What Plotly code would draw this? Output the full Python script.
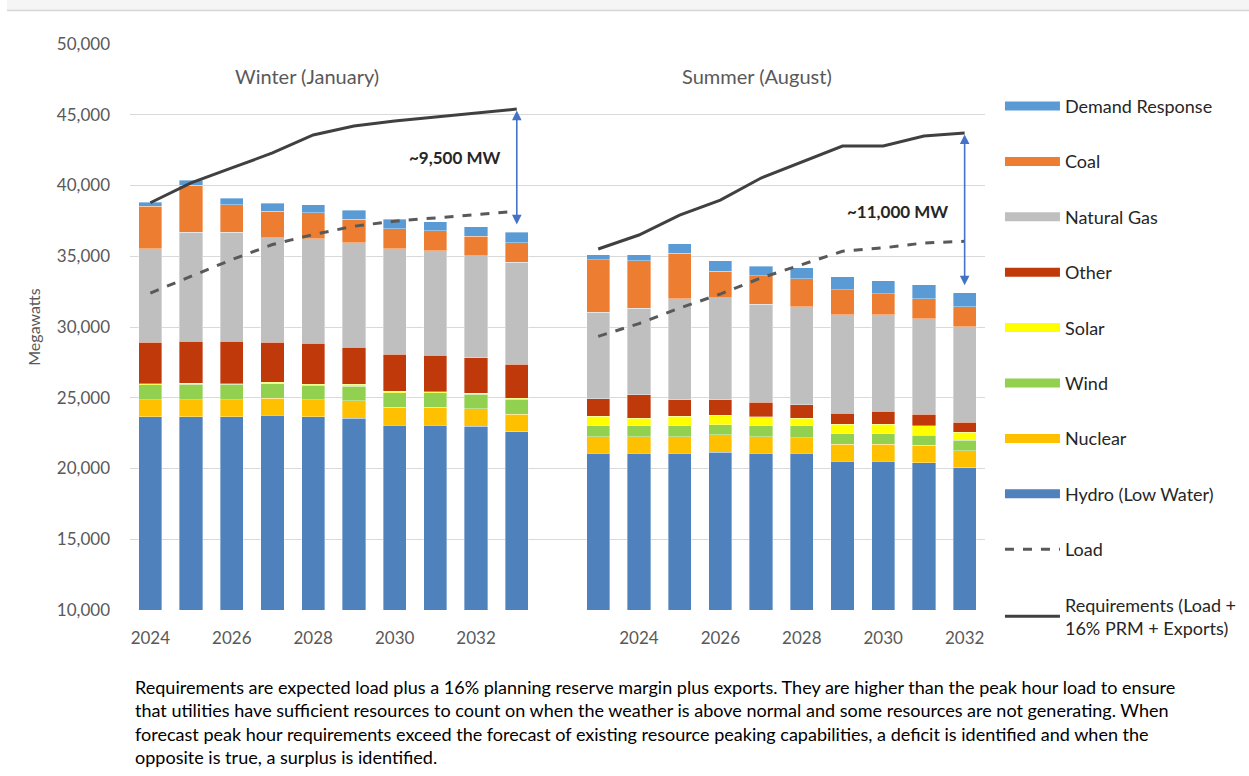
import plotly.graph_objects as go

# ---------------- data ----------------
winter_years = [2024, 2025, 2026, 2027, 2028, 2029, 2030, 2031, 2032, 2033]
summer_years = [2023, 2024, 2025, 2026, 2027, 2028, 2029, 2030, 2031, 2032]

winter_hydro   = [23650, 23650, 23650, 23750, 23650, 23550, 23070, 23070, 23000, 22600]
winter_nuclear = [1200, 1200, 1200, 1200, 1200, 1230, 1250, 1250, 1220, 1250]
winter_wind    = [1070, 1100, 1100, 1050, 1030, 1020, 1030, 1050, 1040, 1060]
winter_solar   = [70, 60, 50, 80, 70, 170, 100, 60, 70, 70]
winter_other   = [2925, 3000, 3010, 2835, 2890, 2590, 2640, 2570, 2480, 2380]
winter_gas     = [6605, 7690, 7690, 7405, 7390, 7380, 7430, 7400, 7210, 7215]
winter_coal    = [3020, 3320, 1930, 1860, 1860, 1680, 1440, 1390, 1395, 1395]
winter_dr      = [280, 360, 470, 570, 540, 635, 640, 640, 665, 730]
winter_load    = [32400, 33580, 34760, 35830, 36530, 37120, 37480, 37710, 37950, 38180]
winter_req     = [38780, 40180, 41240, 42300, 43570, 44200, 44560, 44840, 45120, 45400]

summer_hydro   = [21085, 21085, 21085, 21160, 21085, 21085, 20500, 20500, 20400, 20050]
summer_nuclear = [1175, 1175, 1175, 1220, 1175, 1105, 1220, 1220, 1230, 1200]
summer_wind    = [760, 760, 760, 710, 760, 830, 730, 730, 730, 730]
summer_solar   = [660, 540, 660, 680, 640, 540, 660, 660, 660, 590]
summer_other   = [1250, 1650, 1180, 1090, 1030, 940, 800, 920, 820, 710]
summer_gas     = [6110, 6110, 7120, 7215, 6910, 6915, 6960, 6840, 6750, 6745]
summer_coal    = [3720, 3350, 3230, 1865, 2030, 1985, 1770, 1490, 1390, 1390]
summer_dr      = [360, 450, 690, 730, 660, 800, 900, 920, 1020, 1015]
summer_load    = [29340, 30240, 31340, 32330, 33470, 34410, 35350, 35590, 35940, 36060]
summer_req     = [35510, 36500, 37910, 38970, 40530, 41660, 42790, 42790, 43500, 43710]

tick_years = [2024, 2026, 2028, 2030, 2032]

series = [
    ("Hydro (Low Water)", winter_hydro, summer_hydro, "#4F81BD"),
    ("Nuclear", winter_nuclear, summer_nuclear, "#FFC000"),
    ("Wind", winter_wind, summer_wind, "#92D050"),
    ("Solar", winter_solar, summer_solar, "#FFFF00"),
    ("Other", winter_other, summer_other, "#C0390B"),
    ("Natural Gas", winter_gas, summer_gas, "#BFBFBF"),
    ("Coal", winter_coal, summer_coal, "#ED7D31"),
    ("Demand Response", winter_dr, summer_dr, "#5B9BD5"),
]

# positions: winter group, one empty slot, summer group
winter_x = list(range(len(winter_years)))
summer_x = [len(winter_years) + 1 + i for i in range(len(summer_years))]

FONT = "Lato, 'Open Sans', sans-serif"
GRAY = "#595959"

fig = go.Figure()
n = len(series)
for k, (name, w, s, col) in enumerate(series):
    fig.add_trace(go.Bar(
        x=winter_x + summer_x, y=w + s, name=name,
        marker=dict(color=col, line=dict(width=0.6, color="rgba(255,255,255,0.6)")),
        width=0.57, legendgroup=name, showlegend=False,
    ))
    # legend swatch (wide bar-like key, as in the original)
    fig.add_trace(go.Scatter(
        x=[None], y=[None], mode="lines", name=name,
        line=dict(color=col, width=9), legendgroup=name,
        legendrank=100 + (n - k), hoverinfo="skip",
    ))

fig.add_trace(go.Scatter(
    x=winter_x + [None] + summer_x, y=winter_load + [None] + summer_load,
    mode="lines", name="Load", line=dict(color="#595959", width=3, dash="dash"),
    legendgroup="Load", legendrank=200,
))
fig.add_trace(go.Scatter(
    x=winter_x + [None] + summer_x, y=winter_req + [None] + summer_req,
    mode="lines", name="Requirements (Load +<br>16% PRM + Exports)",
    line=dict(color="#404040", width=3),
    legendgroup="Req", legendrank=201,
))

tickvals = [winter_x[winter_years.index(y)] for y in tick_years] + \
           [summer_x[summer_years.index(y)] for y in tick_years]
ticktext = [str(y) for y in tick_years] * 2

fig.update_layout(
    width=1249, height=776,
    margin=dict(l=130, r=264, t=44, b=166, autoexpand=False),
    plot_bgcolor="white", paper_bgcolor="white",
    barmode="stack", bargap=0.43,
    font=dict(family=FONT, size=17, color=GRAY),
    legend=dict(
        x=1.0175, y=0.9226, xanchor="left", yanchor="top",
        font=dict(family=FONT, size=18, color="#262626"),
        tracegroupgap=29, traceorder="grouped", itemwidth=55,
        maxheight=720,
    ),
    xaxis=dict(
        range=[-0.5, summer_x[-1] + 0.5], tickvals=tickvals, ticktext=ticktext,
        showgrid=False, zeroline=False, tickfont=dict(size=17, color=GRAY),
        ticks="", showline=False, ticklabelstandoff=16,
    ),
    yaxis=dict(
        range=[10000, 50000], dtick=5000, tickformat=",", showgrid=True,
        gridcolor="#D9D9D9", gridwidth=1, zeroline=False,
        tickfont=dict(size=17, color=GRAY), ticklabelstandoff=19,
        title=dict(text="Megawatts", font=dict(size=16, color=GRAY), standoff=12),
    ),
)

# faint top edge of the original screenshot
fig.add_shape(type="rect", xref="paper", yref="paper", x0=-0.144, x1=1.31, y0=1.0583, y1=1.0777,
              fillcolor="#F5F5F5", line=dict(width=0), layer="below")
fig.add_shape(type="line", xref="paper", yref="paper", x0=-0.144, x1=1.31, y0=1.0592, y1=1.0592,
              line=dict(color="#D6D6D6", width=1.5))

# group titles
fig.add_annotation(x=(winter_x[0] + winter_x[-1]) / 2 - 0.65, y=47750, text="Winter (January)",
                   showarrow=False, font=dict(size=20, color=GRAY))
fig.add_annotation(x=(summer_x[0] + summer_x[-1]) / 2 - 0.6, y=47750, text="Summer (August)",
                   showarrow=False, font=dict(size=20, color=GRAY))

# deficit arrows
ARROW = "#4472C4"
fig.add_annotation(x=winter_x[-1], y=37250, ax=winter_x[-1], ay=winter_req[-1],
                   xref="x", yref="y", axref="x", ayref="y", text="",
                   showarrow=True, arrowhead=2, startarrowhead=2, arrowside="end+start",
                   arrowsize=1.2, arrowwidth=1.6, arrowcolor=ARROW)
fig.add_annotation(x=summer_x[-1], y=32950, ax=summer_x[-1], ay=summer_req[-1],
                   xref="x", yref="y", axref="x", ayref="y", text="",
                   showarrow=True, arrowhead=2, startarrowhead=2, arrowside="end+start",
                   arrowsize=1.2, arrowwidth=1.6, arrowcolor=ARROW)
fig.add_annotation(x=winter_x[-1] - 1.52, y=41950, text="<b>~9,500 MW</b>",
                   showarrow=False, font=dict(size=17, color="#262626"))
fig.add_annotation(x=summer_x[-1] - 1.66, y=38150, text="<b>~11,000 MW</b>",
                   showarrow=False, font=dict(size=17, color="#262626"))

caption = ("Requirements are expected load plus a 16% planning reserve margin plus exports. They are higher than the peak hour load to ensure<br>"
           "that utilities have sufficient resources to count on when the weather is above normal and some resources are not generating. When<br>"
           "forecast peak hour requirements exceed the forecast of existing resource peaking capabilities, a deficit is identified and when the<br>"
           "opposite is true, a surplus is identified.")
fig.add_annotation(xref="paper", yref="paper", x=0.003, y=-0.113, xanchor="left", yanchor="top",
                   text=caption, showarrow=False, align="left",
                   font=dict(size=18.05, color="#000000"))

fig.write_html("out.html", config={"displayModeBar": False},
               post_script="document.body.style.margin='0px';")
